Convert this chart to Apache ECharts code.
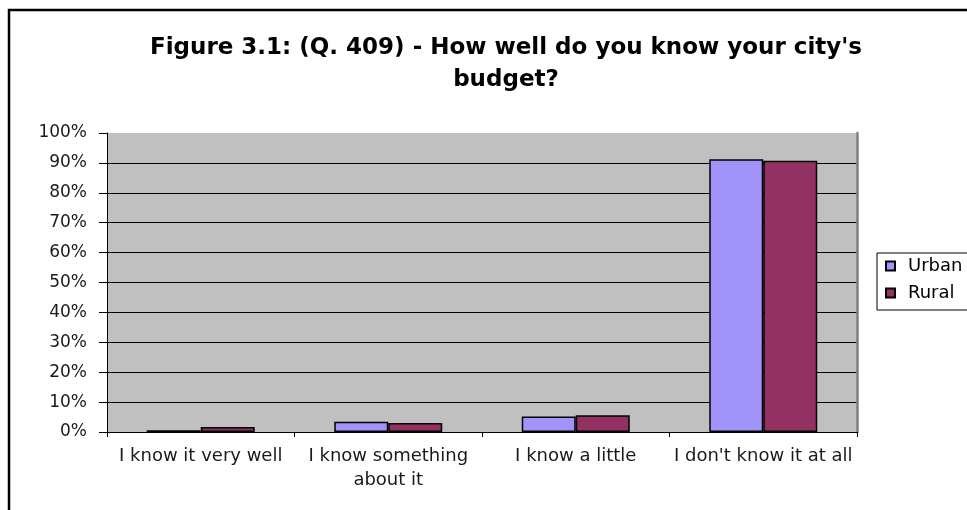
<!DOCTYPE html>
<html>
<head>
<meta charset="utf-8">
<script src="https://cdn.jsdelivr.net/npm/echarts@6/dist/echarts.min.js"></script>
<style>
  html, body { margin: 0; padding: 0; background: #fff; }
  #chart { width: 967px; height: 510px; }
</style>
</head>
<body>
<div id="chart"></div>
<script>
// Survey answers (percent of respondents)
var categories = [
  "I know it very well",
  "I know something\nabout it",
  "I know a little",
  "I don't know it at all"
];
var seriesNames = ["Urban", "Rural"];
var urbanValues = [0.6, 3.4, 5.2, 91.2];
var ruralValues = [1.7, 3.0, 5.6, 90.7];
var titleText = "Figure 3.1: (Q. 409) - How well do you know your city's\nbudget?";

var FONT = "DejaVu Sans";
var chart = echarts.init(document.getElementById("chart"), null, { renderer: "canvas" });

chart.setOption({
  animation: false,
  backgroundColor: "#ffffff",
  title: {
    text: titleText,
    left: 501,
    top: 27,
    textAlign: "center",
    textStyle: {
      fontFamily: FONT,
      fontWeight: "bold",
      fontSize: 23,
      lineHeight: 32,
      color: "#000"
    }
  },
  graphic: [{
    type: "rect",
    shape: { x: 9, y: 10, width: 1100, height: 700 },
    style: { fill: null, stroke: "#000", lineWidth: 2.5 },
    silent: true,
    z: 0
  }],
  legend: {
    data: seriesNames,
    orient: "vertical",
    left: 877,
    top: 253,
    padding: [2, 10, 6, 8],
    itemGap: 5,
    itemWidth: 9,
    itemHeight: 9,
    icon: "rect",
    borderColor: "#000",
    borderWidth: 1,
    textStyle: {
      fontFamily: FONT,
      fontSize: 18,
      lineHeight: 22,
      color: "#000",
      padding: [0, 0, 0, 8]
    }
  },
  grid: {
    left: 107,
    right: 110,
    top: 133,
    bottom: 78,
    show: true,
    backgroundColor: "#C0C0C0",
    borderWidth: 0
  },
  xAxis: {
    type: "category",
    data: categories,
    axisLine: { lineStyle: { color: "#000", width: 1 } },
    axisTick: { show: true, length: 5, lineStyle: { color: "#000" } },
    axisLabel: {
      interval: 0,
      margin: 12,
      fontFamily: FONT,
      fontSize: 18,
      lineHeight: 24,
      color: "#1a1a1a"
    }
  },
  yAxis: [{
    type: "value",
    min: 0,
    max: 100,
    interval: 10,
    axisLine: { show: true, lineStyle: { color: "#000", width: 1 } },
    axisTick: { show: true, length: 8, lineStyle: { color: "#000" } },
    axisLabel: {
      formatter: "{value}%",
      margin: 20,
      fontFamily: FONT,
      fontSize: 17,
      color: "#1a1a1a"
    },
    splitLine: { show: true, showMaxLine: false, lineStyle: { color: "#000", width: 1 } }
  }, {
    type: "value",
    position: "right",
    min: 0,
    max: 100,
    interval: 10,
    axisLine: { show: true, lineStyle: { color: "#808080", width: 2.5 } },
    axisTick: { show: false },
    axisLabel: { show: false },
    splitLine: { show: false }
  }],
  series: [{
    name: seriesNames[0],
    type: "bar",
    data: urbanValues,
    barWidth: 54,
    barGap: "0%",
    itemStyle: { color: "#A193FA", borderColor: "#000", borderWidth: 1.5 }
  }, {
    name: seriesNames[1],
    type: "bar",
    data: ruralValues,
    barWidth: 54,
    barGap: "0%",
    itemStyle: { color: "#933262", borderColor: "#000", borderWidth: 1.5 }
  }]
});
</script>
</body>
</html>
